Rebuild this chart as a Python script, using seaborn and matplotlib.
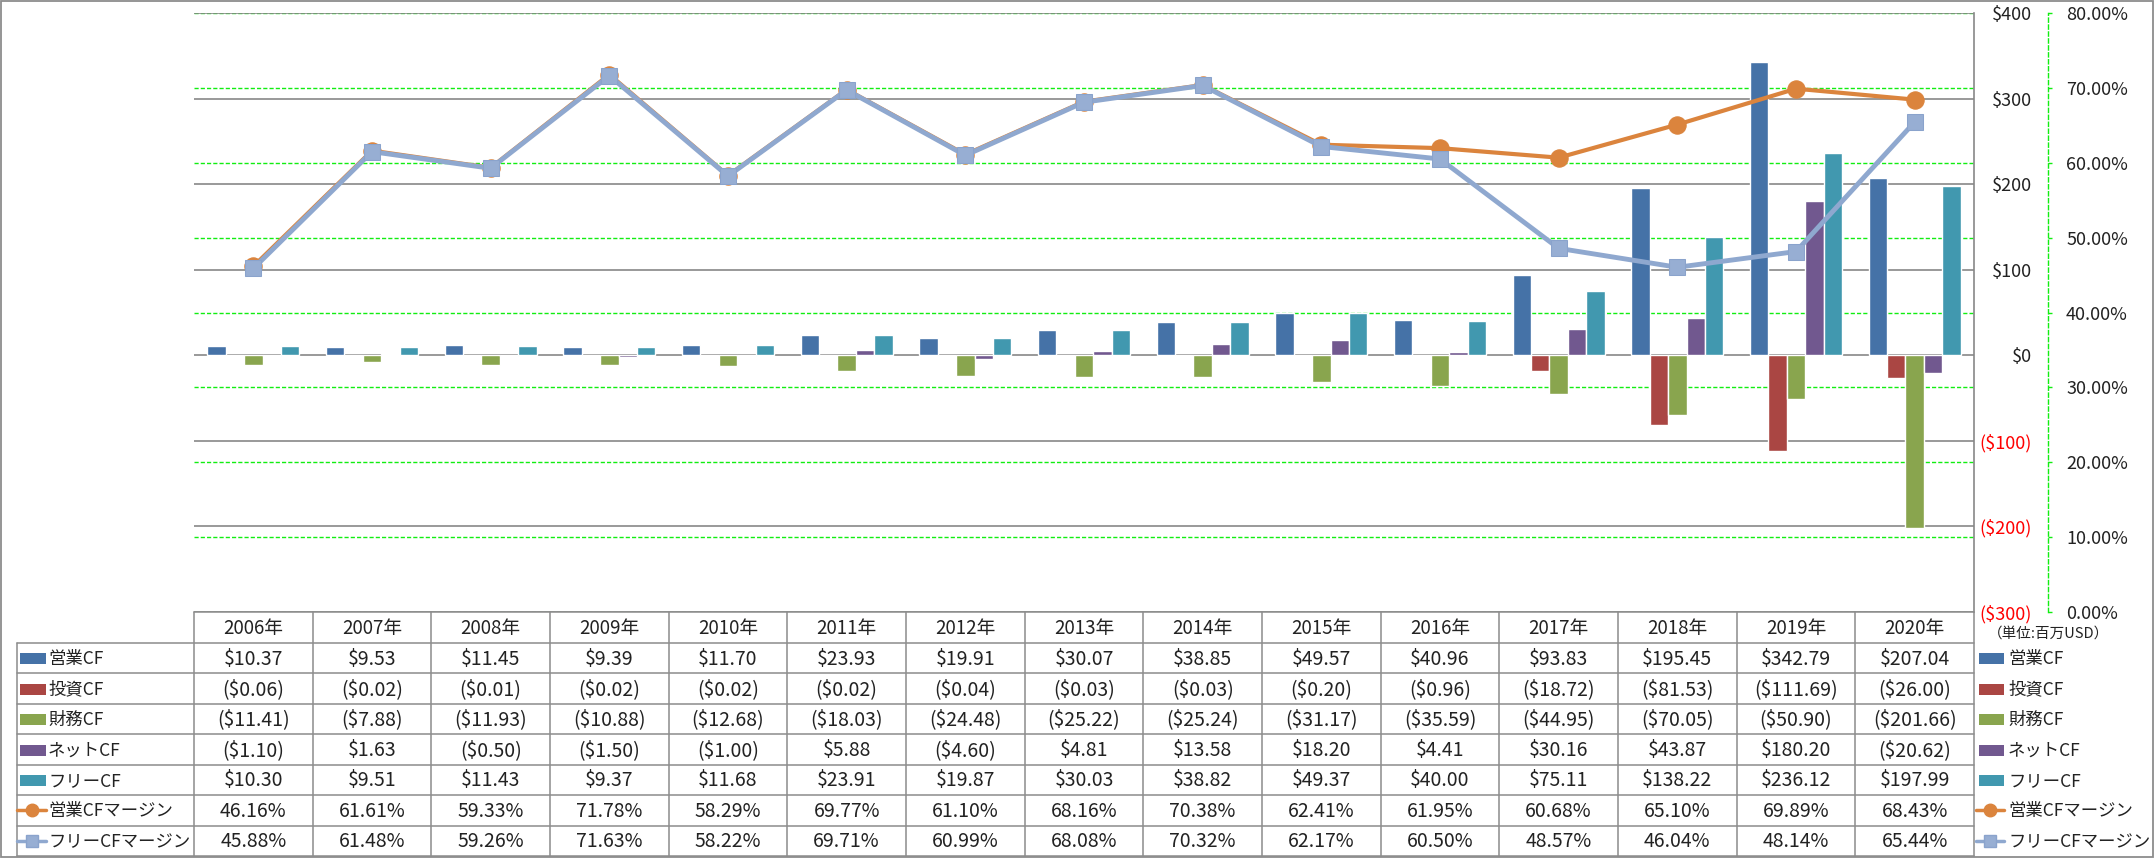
import numpy as np
import pandas as pd
import matplotlib
matplotlib.use("Agg")
import matplotlib.pyplot as plt
import seaborn as sns
from matplotlib.patches import Rectangle
from matplotlib.lines import Line2D

# ---------------- data ----------------
years = [2006, 2007, 2008, 2009, 2010, 2011, 2012, 2013, 2014, 2015, 2016, 2017, 2018, 2019, 2020]
year_labels = [f"{y}年" for y in years]
op_cf = [10.37, 9.53, 11.45, 9.39, 11.70, 23.93, 19.91, 30.07, 38.85, 49.57, 40.96, 93.83, 195.45, 342.79, 207.04]
inv_cf = [-0.06, -0.02, -0.01, -0.02, -0.02, -0.02, -0.04, -0.03, -0.03, -0.20, -0.96, -18.72, -81.53, -111.69, -26.00]
fin_cf = [-11.41, -7.88, -11.93, -10.88, -12.68, -18.03, -24.48, -25.22, -25.24, -31.17, -35.59, -44.95, -70.05, -50.90, -201.66]
net_cf = [-1.10, 1.63, -0.50, -1.50, -1.00, 5.88, -4.60, 4.81, 13.58, 18.20, 4.41, 30.16, 43.87, 180.20, -20.62]
free_cf = [10.30, 9.51, 11.43, 9.37, 11.68, 23.91, 19.87, 30.03, 38.82, 49.37, 40.00, 75.11, 138.22, 236.12, 197.99]
op_margin = [46.16, 61.61, 59.33, 71.78, 58.29, 69.77, 61.10, 68.16, 70.38, 62.41, 61.95, 60.68, 65.10, 69.89, 68.43]
free_margin = [45.88, 61.48, 59.26, 71.63, 58.22, 69.71, 60.99, 68.08, 70.32, 62.17, 60.50, 48.57, 46.04, 48.14, 65.44]

bar_names = ["営業CF", "投資CF", "財務CF", "ネットCF", "フリーCF"]
line_names = ["営業CFマージン", "フリーCFマージン"]
bar_colors = ["#4572A7", "#AA4643", "#89A54E", "#71588F", "#4198AF"]
line_colors = ["#DB843D", "#8FA8CF"]
usd_ticks = [-300, -200, -100, 0, 100, 200, 300, 400]
pct_ticks = [0, 10, 20, 30, 40, 50, 60, 70, 80]
unit_label = "（単位:百万USD）"

# ---------------- style ----------------
sns.set_theme(style="white")
FONT = ["Noto Sans CJK JP", "DejaVu Sans"]
plt.rcParams["font.family"] = FONT

W, H = 2156, 858
fig = plt.figure(figsize=(W / 100, H / 100), dpi=100)

def rect(x0, y0, x1, y1):
    return [x0 / W, 1 - y1 / H, (x1 - x0) / W, (y1 - y0) / H]

PX0, PY0, PX1, PY1 = 194, 13, 1974, 612
GRAY = "#878787"
GREEN = "#11EE11"

# background percent grid axes
axg = fig.add_axes(rect(PX0, PY0, PX1, PY1), zorder=0)
axg.set_ylim(0, 80)
axg.set_xlim(-0.5, 14.5)
axg.set_yticks(pct_ticks)
axg.set_yticklabels([f"{v:.2f}%" for v in pct_ticks])
axg.set_xticks([])
axg.yaxis.tick_right()
for s in ["left", "top", "bottom"]:
    axg.spines[s].set_visible(False)
axg.spines["right"].set_position(("outward", 74 * 0.72))
axg.spines["right"].set_color(GREEN)
axg.spines["right"].set_linestyle((0, (3, 2)))
axg.spines["right"].set_linewidth(1.0)
axg.tick_params(axis="y", direction="out", length=3, width=1, color=GREEN,
                pad=10, labelsize=13, labelcolor="#222222")
axg.grid(axis="y", color=GREEN, linestyle=(0, (3, 1.5)), linewidth=1.0)
axg.set_axisbelow(True)

# bar axes (USD)
ax = fig.add_axes(rect(PX0, PY0, PX1, PY1), zorder=1)
ax.patch.set_visible(False)
df = pd.DataFrame({
    "year": year_labels * 5,
    "series": sum([[n] * len(years) for n in bar_names], []),
    "value": op_cf + inv_cf + fin_cf + net_cf + free_cf,
})
sns.barplot(data=df, x="year", y="value", hue="series", hue_order=bar_names,
            palette=bar_colors, width=0.775, saturation=1, errorbar=None,
            legend=False, ax=ax, zorder=3)
ax.set_xlim(-0.5, 14.5)
ax.set_ylim(-300, 400)
ax.set_yticks(usd_ticks)
ax.set_yticklabels([f"${v:,.0f}" if v >= 0 else f"(${-v:,.0f})" for v in usd_ticks])
ax.yaxis.tick_right()
ax.tick_params(axis="y", length=0, pad=58 * 0.72, labelsize=13)
for lbl, v in zip(ax.get_yticklabels(), usd_ticks):
    lbl.set_horizontalalignment("right")
    lbl.set_color("#FF0000" if v < 0 else "#222222")
ax.set_xticks([])
ax.set_xlabel("")
ax.set_ylabel("")
ax.grid(axis="y", color=GRAY, linewidth=1.2, zorder=1)
ax.set_axisbelow(True)
for s in ["left", "top", "bottom"]:
    ax.spines[s].set_visible(False)
ax.spines["right"].set_color(GRAY)
ax.spines["right"].set_linewidth(1.2)

# line axes (percent)
axl = fig.add_axes(rect(PX0, PY0, PX1, PY1), zorder=2)
axl.patch.set_visible(False)
xs = np.arange(len(years))
sns.lineplot(x=xs, y=op_margin, ax=axl, color=line_colors[0], linewidth=3,
             marker="o", markersize=12.5, markeredgecolor=line_colors[0])
sns.lineplot(x=xs, y=free_margin, ax=axl, color=line_colors[1], linewidth=3.5,
             marker="s", markersize=12, markeredgecolor="#8AA3CC",
             markerfacecolor="#97AED3")
axl.set_xlim(-0.5, 14.5)
axl.set_ylim(0, 80)
axl.axis("off")

# ---------------- table ----------------
axt = fig.add_axes([0, 0, 1, 1], zorder=5)
axt.patch.set_visible(False)
axt.set_xlim(0, W)
axt.set_ylim(H, 0)
axt.axis("off")

LC = "#8C8C8C"
LW = 1.1
ncol = len(years)
cw = (PX1 - PX0) / ncol
hdr_top, hdr_bot = 612, 643
nrows = 7
rh = (856 - hdr_bot) / nrows
row_y = [hdr_bot + k * rh for k in range(nrows + 1)]

# header lines
axt.plot([PX0, PX1], [hdr_top, hdr_top], color=LC, lw=LW)
for y in row_y:
    axt.plot([17, PX1], [y, y], color=LC, lw=LW)
axt.plot([17, 17], [hdr_bot, row_y[-1]], color=LC, lw=LW)
for k in range(ncol + 1):
    x = PX0 + k * cw
    axt.plot([x, x], [hdr_top, row_y[-1]], color=LC, lw=LW)

for k, yl in enumerate(year_labels):
    axt.text(PX0 + (k + 0.5) * cw, (hdr_top + hdr_bot) / 2 + 1, yl,
             ha="center", va="center", fontsize=13.5, color="#222222")

def money(v):
    return f"${v:,.2f}" if v >= 0 else f"(${-v:,.2f})"

rows = [op_cf, inv_cf, fin_cf, net_cf, free_cf, op_margin, free_margin]
names = bar_names + line_names
for r, vals in enumerate(rows):
    yc = (row_y[r] + row_y[r + 1]) / 2 + 1
    for k, v in enumerate(vals):
        txt = money(v) if r < 5 else f"{v:.2f}%"
        axt.text(PX0 + (k + 0.5) * cw, yc, txt, ha="center", va="center",
                 fontsize=14, color="#222222")
    # legend keys: left and right
    for (kx0, kx1, tx) in [(20, 46, 48), (1979, 2004, 2008)]:
        if r < 5:
            axt.add_patch(Rectangle((kx0, yc - 6), kx1 - kx0, 11,
                                    color=bar_colors[r], lw=0))
        else:
            axt.add_line(Line2D([kx0 - 3, kx1], [yc - 1, yc - 1],
                                color=line_colors[r - 5], lw=2.5))
            if r == 5:
                axt.plot([(kx0 + kx1) / 2 - 1.5], [yc - 1], marker="o",
                         markersize=9, color=line_colors[0])
            else:
                axt.plot([(kx0 + kx1) / 2 - 1.5], [yc - 1], marker="s",
                         markersize=9, color="#97AED3", markeredgecolor="#8AA3CC")
        axt.text(tx, yc, names[r], ha="left", va="center", fontsize=12.5,
                 color="#222222")

axt.text(2048, 634, unit_label, ha="center", va="center", fontsize=10.5,
         color="#222222")

# outer border
axt.add_patch(Rectangle((1, 1), W - 4, H - 2.5, fill=False, edgecolor="#8C8C8C", lw=1.3))

fig.savefig("out.png", dpi=100)
